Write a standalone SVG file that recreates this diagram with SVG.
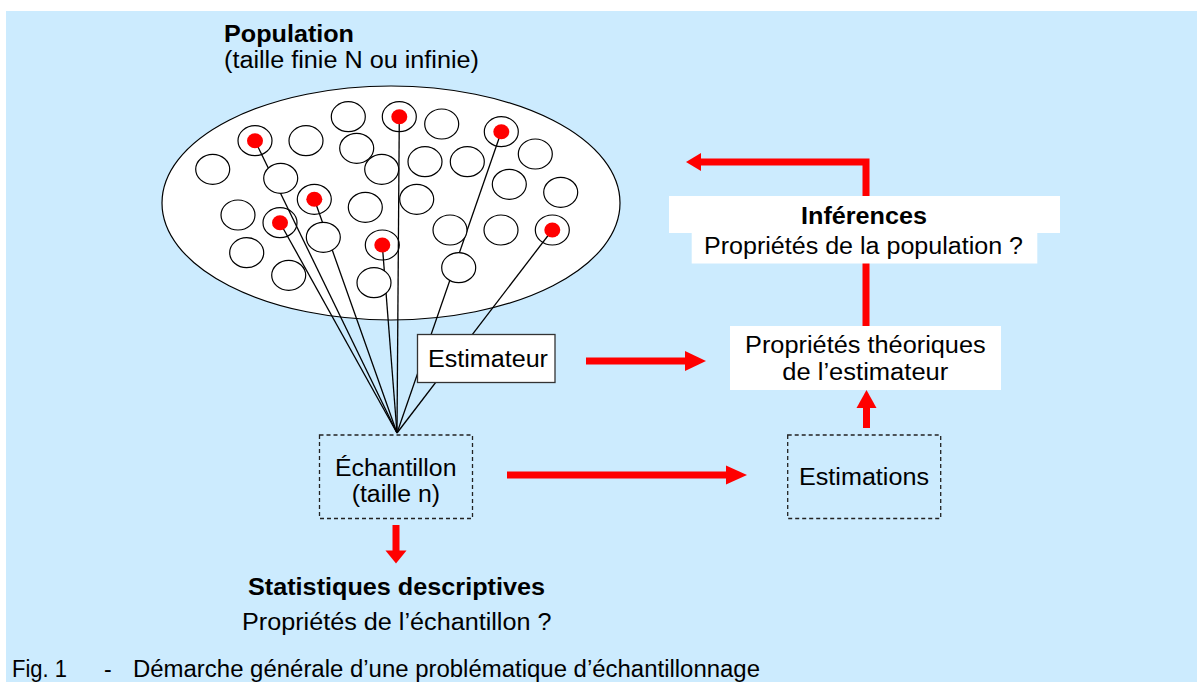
<svg xmlns="http://www.w3.org/2000/svg" width="1197" height="682" viewBox="0 0 1197 682">
<style>
text{font-family:"Liberation Sans",Arial,sans-serif;font-size:23px;fill:#000}
.b{font-weight:bold}
.ind{fill:#fff;stroke:#000;stroke-width:1.2}
.dot{fill:#f00;stroke:none}
.samp{stroke:#000;stroke-width:1.3;fill:none}
.red{stroke:#f00;stroke-width:7;fill:none;stroke-linejoin:miter}
.head{fill:#f00;stroke:none}
.dash{fill:none;stroke:#222;stroke-width:1.3;stroke-dasharray:4 3}
</style>
<rect x="6" y="11" width="1191" height="671" fill="#CCEBFE"/>

<g id="population">
  <text class="b" x="224" y="42" textLength="130" lengthAdjust="spacingAndGlyphs">Population</text>
  <text x="224" y="68" textLength="255" lengthAdjust="spacingAndGlyphs">(taille finie N ou infinie)</text>
  <ellipse cx="391" cy="203" rx="229" ry="117" fill="#fff" stroke="#000" stroke-width="1.2"/>
  <g id="sampled-rings">
    <ellipse class="ind" cx="255" cy="140.7" rx="17" ry="15"/>
    <ellipse class="ind" cx="399.3" cy="116.7" rx="17" ry="15"/>
    <ellipse class="ind" cx="501.3" cy="131.7" rx="17" ry="15"/>
    <ellipse class="ind" cx="314.3" cy="199.3" rx="17" ry="15"/>
    <ellipse class="ind" cx="280" cy="222.7" rx="17" ry="15"/>
    <ellipse class="ind" cx="382.3" cy="245" rx="17" ry="15"/>
    <ellipse class="ind" cx="552.3" cy="230" rx="17" ry="15"/>
  </g>
</g>

<g id="connectors">
  <line class="samp" x1="255" y1="140.7" x2="397" y2="433"/>
  <line class="samp" x1="280" y1="222.7" x2="397" y2="433"/>
  <line class="samp" x1="314.3" y1="199.3" x2="397" y2="433"/>
  <line class="samp" x1="382.3" y1="245" x2="397" y2="433"/>
  <line class="samp" x1="399.3" y1="116.7" x2="397" y2="433"/>
  <line class="samp" x1="501.3" y1="131.7" x2="397" y2="433"/>
  <line class="samp" x1="552.3" y1="230" x2="397" y2="433"/>

  <line class="red" x1="586" y1="361" x2="686" y2="361"/>
  <polygon class="head" points="685,351 706,361 685,371"/>

  <line class="red" x1="507" y1="475" x2="727" y2="475"/>
  <polygon class="head" points="726,465.5 747,475 726,484.5"/>

  <line class="red" x1="396" y1="525" x2="396" y2="551"/>
  <polygon class="head" points="385.5,550.5 406.5,550.5 396,563.5"/>

  <line class="red" x1="866.5" y1="428" x2="866.5" y2="407"/>
  <polygon class="head" points="856.5,408 876.5,408 866.5,390"/>

  <polyline class="red" points="866,327 866,162 700,162"/>
  <polygon class="head" points="701,153 686,162 701,171"/>
</g>

<g id="individuals">
  <ellipse class="ind" cx="348.3" cy="116.7" rx="17" ry="15"/>
  <ellipse class="ind" cx="441.7" cy="124" rx="17" ry="15"/>
  <ellipse class="ind" cx="306" cy="140.7" rx="17" ry="15"/>
  <ellipse class="ind" cx="356.7" cy="148.3" rx="17" ry="15"/>
  <ellipse class="ind" cx="381.7" cy="169.3" rx="17" ry="15"/>
  <ellipse class="ind" cx="425" cy="161.7" rx="17" ry="15"/>
  <ellipse class="ind" cx="467.3" cy="161.7" rx="17" ry="15"/>
  <ellipse class="ind" cx="535.3" cy="154" rx="17" ry="15"/>
  <ellipse class="ind" cx="212.7" cy="169.3" rx="17" ry="15"/>
  <ellipse class="ind" cx="280.7" cy="178.3" rx="17" ry="15"/>
  <ellipse class="ind" cx="509.3" cy="184.3" rx="17" ry="15"/>
  <ellipse class="ind" cx="560.7" cy="192.3" rx="17" ry="15"/>
  <ellipse class="ind" cx="365.3" cy="207.3" rx="17" ry="15"/>
  <ellipse class="ind" cx="416.7" cy="199.3" rx="17" ry="15"/>
  <ellipse class="ind" cx="238" cy="215" rx="17" ry="15"/>
  <ellipse class="ind" cx="323.3" cy="237.3" rx="17" ry="15"/>
  <ellipse class="ind" cx="450" cy="230" rx="17" ry="15"/>
  <ellipse class="ind" cx="501" cy="230" rx="17" ry="15"/>
  <ellipse class="ind" cx="246.7" cy="252.7" rx="17" ry="15"/>
  <ellipse class="ind" cx="288.7" cy="275.3" rx="17" ry="15"/>
  <ellipse class="ind" cx="374" cy="282.7" rx="17" ry="15"/>
  <ellipse class="ind" cx="458.7" cy="267.7" rx="17" ry="15"/>
  <ellipse class="dot" cx="255" cy="140.7" rx="8" ry="7.5"/>
  <ellipse class="dot" cx="399.3" cy="116.7" rx="8" ry="7.5"/>
  <ellipse class="dot" cx="501.3" cy="131.7" rx="8" ry="7.5"/>
  <ellipse class="dot" cx="314.3" cy="199.3" rx="8" ry="7.5"/>
  <ellipse class="dot" cx="280" cy="222.7" rx="8" ry="7.5"/>
  <ellipse class="dot" cx="382.3" cy="245" rx="8" ry="7.5"/>
  <ellipse class="dot" cx="552.3" cy="230" rx="8" ry="7.5"/>
</g>

<g id="estimateur">
  <rect x="417.5" y="334.5" width="137.5" height="48" fill="#fff" stroke="#333" stroke-width="1.3"/>
  <text x="428" y="367" textLength="120" lengthAdjust="spacingAndGlyphs">Estimateur</text>
</g>

<g id="echantillon">
  <rect class="dash" x="319.5" y="435" width="153" height="83.5"/>
  <text x="335" y="475.7" textLength="121.5" lengthAdjust="spacingAndGlyphs">Échantillon</text>
  <text x="351.7" y="502" textLength="88.3" lengthAdjust="spacingAndGlyphs">(taille n)</text>
</g>

<g id="estimations">
  <rect class="dash" x="787.7" y="435" width="153" height="83.5"/>
  <text x="799" y="485" textLength="130" lengthAdjust="spacingAndGlyphs">Estimations</text>
</g>

<g id="proprietes-theoriques">
  <rect x="730" y="326" width="271" height="64" fill="#fff"/>
  <text x="745" y="353.3" textLength="240.7" lengthAdjust="spacingAndGlyphs">Propriétés théoriques</text>
  <text x="782.3" y="380" textLength="166" lengthAdjust="spacingAndGlyphs">de l’estimateur</text>
</g>

<g id="inferences">
  <rect x="669" y="196" width="391" height="37" fill="#fff"/>
  <rect x="691.7" y="232.5" width="345.6" height="31" fill="#fff"/>
  <text class="b" x="801" y="223.5" textLength="126" lengthAdjust="spacingAndGlyphs">Inférences</text>
  <text x="704" y="254" textLength="319" lengthAdjust="spacingAndGlyphs">Propriétés de la population ?</text>
</g>

<g id="statistiques-descriptives">
  <text class="b" x="248" y="595" textLength="297" lengthAdjust="spacingAndGlyphs">Statistiques descriptives</text>
  <text x="242" y="629.5" textLength="309.5" lengthAdjust="spacingAndGlyphs">Propriétés de l’échantillon ?</text>
</g>

<g id="caption">
  <text x="12" y="676.5" textLength="55" lengthAdjust="spacingAndGlyphs">Fig. 1</text>
  <text x="104" y="676.5">-</text>
  <text x="133" y="676.5" textLength="627" lengthAdjust="spacingAndGlyphs">Démarche générale d’une problématique d’échantillonnage</text>
</g>
</svg>
